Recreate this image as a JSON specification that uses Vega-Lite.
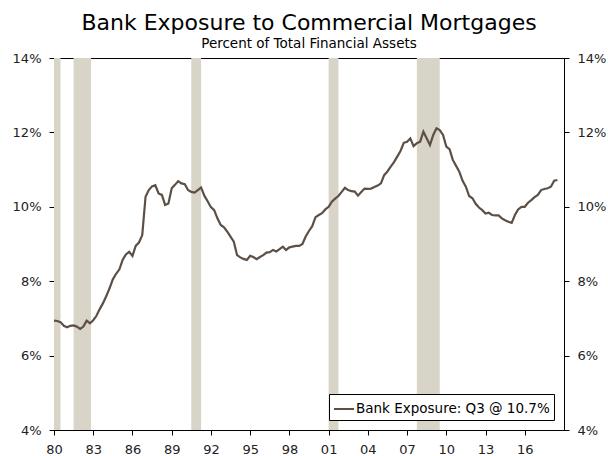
{
  "$schema": "https://vega.github.io/schema/vega-lite/v6.json",
  "width": 510,
  "height": 372,
  "autosize": {"type": "none"},
  "padding": {"left": 54, "top": 58, "right": 44, "bottom": 26},
  "background": "white",
  "config": {
    "font": "DejaVu Sans",
    "view": {"stroke": "black", "strokeWidth": 1},
    "axis": {"grid": false, "domainColor": "black", "tickColor": "black", "labelColor": "#222222", "labelFontSize": 13, "tickSize": 5, "labelPadding": 8, "title": null}
  },
  "title": {
    "text": "Bank Exposure to Commercial Mortgages",
    "subtitle": "Percent of Total Financial Assets",
    "fontSize": 22,
    "fontWeight": "normal",
    "subtitleFontSize": 13.5,
    "color": "black",
    "subtitleColor": "black",
    "anchor": "middle",
    "offset": 1,
    "subtitlePadding": 2
  },
  "datasets": {
    "rec": [
      {"start": "1980-01-01", "end": "1980-07-01"},
      {"start": "1981-07-01", "end": "1982-11-01"},
      {"start": "1990-07-01", "end": "1991-04-01"},
      {"start": "2001-01-01", "end": "2001-10-01"},
      {"start": "2007-10-01", "end": "2009-07-01"}
    ],
    "bank": [
      {"date": "1980-01-01", "value": 6.94, "series": "Bank Exposure: Q3 @ 10.7%"},
      {"date": "1980-04-01", "value": 6.93, "series": "Bank Exposure: Q3 @ 10.7%"},
      {"date": "1980-07-01", "value": 6.90, "series": "Bank Exposure: Q3 @ 10.7%"},
      {"date": "1980-10-01", "value": 6.80, "series": "Bank Exposure: Q3 @ 10.7%"},
      {"date": "1981-01-01", "value": 6.76, "series": "Bank Exposure: Q3 @ 10.7%"},
      {"date": "1981-04-01", "value": 6.80, "series": "Bank Exposure: Q3 @ 10.7%"},
      {"date": "1981-07-01", "value": 6.81, "series": "Bank Exposure: Q3 @ 10.7%"},
      {"date": "1981-10-01", "value": 6.78, "series": "Bank Exposure: Q3 @ 10.7%"},
      {"date": "1982-01-01", "value": 6.72, "series": "Bank Exposure: Q3 @ 10.7%"},
      {"date": "1982-04-01", "value": 6.78, "series": "Bank Exposure: Q3 @ 10.7%"},
      {"date": "1982-07-01", "value": 6.94, "series": "Bank Exposure: Q3 @ 10.7%"},
      {"date": "1982-10-01", "value": 6.87, "series": "Bank Exposure: Q3 @ 10.7%"},
      {"date": "1983-01-01", "value": 6.95, "series": "Bank Exposure: Q3 @ 10.7%"},
      {"date": "1983-04-01", "value": 7.07, "series": "Bank Exposure: Q3 @ 10.7%"},
      {"date": "1983-07-01", "value": 7.25, "series": "Bank Exposure: Q3 @ 10.7%"},
      {"date": "1983-10-01", "value": 7.41, "series": "Bank Exposure: Q3 @ 10.7%"},
      {"date": "1984-01-01", "value": 7.60, "series": "Bank Exposure: Q3 @ 10.7%"},
      {"date": "1984-04-01", "value": 7.81, "series": "Bank Exposure: Q3 @ 10.7%"},
      {"date": "1984-07-01", "value": 8.05, "series": "Bank Exposure: Q3 @ 10.7%"},
      {"date": "1984-10-01", "value": 8.20, "series": "Bank Exposure: Q3 @ 10.7%"},
      {"date": "1985-01-01", "value": 8.32, "series": "Bank Exposure: Q3 @ 10.7%"},
      {"date": "1985-04-01", "value": 8.57, "series": "Bank Exposure: Q3 @ 10.7%"},
      {"date": "1985-07-01", "value": 8.72, "series": "Bank Exposure: Q3 @ 10.7%"},
      {"date": "1985-10-01", "value": 8.79, "series": "Bank Exposure: Q3 @ 10.7%"},
      {"date": "1986-01-01", "value": 8.68, "series": "Bank Exposure: Q3 @ 10.7%"},
      {"date": "1986-04-01", "value": 8.95, "series": "Bank Exposure: Q3 @ 10.7%"},
      {"date": "1986-07-01", "value": 9.04, "series": "Bank Exposure: Q3 @ 10.7%"},
      {"date": "1986-10-01", "value": 9.24, "series": "Bank Exposure: Q3 @ 10.7%"},
      {"date": "1987-01-01", "value": 10.27, "series": "Bank Exposure: Q3 @ 10.7%"},
      {"date": "1987-04-01", "value": 10.45, "series": "Bank Exposure: Q3 @ 10.7%"},
      {"date": "1987-07-01", "value": 10.55, "series": "Bank Exposure: Q3 @ 10.7%"},
      {"date": "1987-10-01", "value": 10.58, "series": "Bank Exposure: Q3 @ 10.7%"},
      {"date": "1988-01-01", "value": 10.36, "series": "Bank Exposure: Q3 @ 10.7%"},
      {"date": "1988-04-01", "value": 10.32, "series": "Bank Exposure: Q3 @ 10.7%"},
      {"date": "1988-07-01", "value": 10.05, "series": "Bank Exposure: Q3 @ 10.7%"},
      {"date": "1988-10-01", "value": 10.09, "series": "Bank Exposure: Q3 @ 10.7%"},
      {"date": "1989-01-01", "value": 10.50, "series": "Bank Exposure: Q3 @ 10.7%"},
      {"date": "1989-04-01", "value": 10.59, "series": "Bank Exposure: Q3 @ 10.7%"},
      {"date": "1989-07-01", "value": 10.69, "series": "Bank Exposure: Q3 @ 10.7%"},
      {"date": "1989-10-01", "value": 10.63, "series": "Bank Exposure: Q3 @ 10.7%"},
      {"date": "1990-01-01", "value": 10.61, "series": "Bank Exposure: Q3 @ 10.7%"},
      {"date": "1990-04-01", "value": 10.45, "series": "Bank Exposure: Q3 @ 10.7%"},
      {"date": "1990-07-01", "value": 10.40, "series": "Bank Exposure: Q3 @ 10.7%"},
      {"date": "1990-10-01", "value": 10.38, "series": "Bank Exposure: Q3 @ 10.7%"},
      {"date": "1991-01-01", "value": 10.45, "series": "Bank Exposure: Q3 @ 10.7%"},
      {"date": "1991-04-01", "value": 10.52, "series": "Bank Exposure: Q3 @ 10.7%"},
      {"date": "1991-07-01", "value": 10.30, "series": "Bank Exposure: Q3 @ 10.7%"},
      {"date": "1991-10-01", "value": 10.15, "series": "Bank Exposure: Q3 @ 10.7%"},
      {"date": "1992-01-01", "value": 9.99, "series": "Bank Exposure: Q3 @ 10.7%"},
      {"date": "1992-04-01", "value": 9.91, "series": "Bank Exposure: Q3 @ 10.7%"},
      {"date": "1992-07-01", "value": 9.69, "series": "Bank Exposure: Q3 @ 10.7%"},
      {"date": "1992-10-01", "value": 9.51, "series": "Bank Exposure: Q3 @ 10.7%"},
      {"date": "1993-01-01", "value": 9.45, "series": "Bank Exposure: Q3 @ 10.7%"},
      {"date": "1993-04-01", "value": 9.33, "series": "Bank Exposure: Q3 @ 10.7%"},
      {"date": "1993-07-01", "value": 9.20, "series": "Bank Exposure: Q3 @ 10.7%"},
      {"date": "1993-10-01", "value": 9.06, "series": "Bank Exposure: Q3 @ 10.7%"},
      {"date": "1994-01-01", "value": 8.70, "series": "Bank Exposure: Q3 @ 10.7%"},
      {"date": "1994-04-01", "value": 8.64, "series": "Bank Exposure: Q3 @ 10.7%"},
      {"date": "1994-07-01", "value": 8.60, "series": "Bank Exposure: Q3 @ 10.7%"},
      {"date": "1994-10-01", "value": 8.57, "series": "Bank Exposure: Q3 @ 10.7%"},
      {"date": "1995-01-01", "value": 8.68, "series": "Bank Exposure: Q3 @ 10.7%"},
      {"date": "1995-04-01", "value": 8.65, "series": "Bank Exposure: Q3 @ 10.7%"},
      {"date": "1995-07-01", "value": 8.59, "series": "Bank Exposure: Q3 @ 10.7%"},
      {"date": "1995-10-01", "value": 8.65, "series": "Bank Exposure: Q3 @ 10.7%"},
      {"date": "1996-01-01", "value": 8.70, "series": "Bank Exposure: Q3 @ 10.7%"},
      {"date": "1996-04-01", "value": 8.77, "series": "Bank Exposure: Q3 @ 10.7%"},
      {"date": "1996-07-01", "value": 8.78, "series": "Bank Exposure: Q3 @ 10.7%"},
      {"date": "1996-10-01", "value": 8.84, "series": "Bank Exposure: Q3 @ 10.7%"},
      {"date": "1997-01-01", "value": 8.80, "series": "Bank Exposure: Q3 @ 10.7%"},
      {"date": "1997-04-01", "value": 8.86, "series": "Bank Exposure: Q3 @ 10.7%"},
      {"date": "1997-07-01", "value": 8.93, "series": "Bank Exposure: Q3 @ 10.7%"},
      {"date": "1997-10-01", "value": 8.84, "series": "Bank Exposure: Q3 @ 10.7%"},
      {"date": "1998-01-01", "value": 8.91, "series": "Bank Exposure: Q3 @ 10.7%"},
      {"date": "1998-04-01", "value": 8.93, "series": "Bank Exposure: Q3 @ 10.7%"},
      {"date": "1998-07-01", "value": 8.95, "series": "Bank Exposure: Q3 @ 10.7%"},
      {"date": "1998-10-01", "value": 8.95, "series": "Bank Exposure: Q3 @ 10.7%"},
      {"date": "1999-01-01", "value": 9.00, "series": "Bank Exposure: Q3 @ 10.7%"},
      {"date": "1999-04-01", "value": 9.20, "series": "Bank Exposure: Q3 @ 10.7%"},
      {"date": "1999-07-01", "value": 9.35, "series": "Bank Exposure: Q3 @ 10.7%"},
      {"date": "1999-10-01", "value": 9.48, "series": "Bank Exposure: Q3 @ 10.7%"},
      {"date": "2000-01-01", "value": 9.72, "series": "Bank Exposure: Q3 @ 10.7%"},
      {"date": "2000-04-01", "value": 9.78, "series": "Bank Exposure: Q3 @ 10.7%"},
      {"date": "2000-07-01", "value": 9.83, "series": "Bank Exposure: Q3 @ 10.7%"},
      {"date": "2000-10-01", "value": 9.93, "series": "Bank Exposure: Q3 @ 10.7%"},
      {"date": "2001-01-01", "value": 10.00, "series": "Bank Exposure: Q3 @ 10.7%"},
      {"date": "2001-04-01", "value": 10.14, "series": "Bank Exposure: Q3 @ 10.7%"},
      {"date": "2001-07-01", "value": 10.22, "series": "Bank Exposure: Q3 @ 10.7%"},
      {"date": "2001-10-01", "value": 10.29, "series": "Bank Exposure: Q3 @ 10.7%"},
      {"date": "2002-01-01", "value": 10.40, "series": "Bank Exposure: Q3 @ 10.7%"},
      {"date": "2002-04-01", "value": 10.51, "series": "Bank Exposure: Q3 @ 10.7%"},
      {"date": "2002-07-01", "value": 10.45, "series": "Bank Exposure: Q3 @ 10.7%"},
      {"date": "2002-10-01", "value": 10.42, "series": "Bank Exposure: Q3 @ 10.7%"},
      {"date": "2003-01-01", "value": 10.41, "series": "Bank Exposure: Q3 @ 10.7%"},
      {"date": "2003-04-01", "value": 10.30, "series": "Bank Exposure: Q3 @ 10.7%"},
      {"date": "2003-07-01", "value": 10.40, "series": "Bank Exposure: Q3 @ 10.7%"},
      {"date": "2003-10-01", "value": 10.49, "series": "Bank Exposure: Q3 @ 10.7%"},
      {"date": "2004-01-01", "value": 10.48, "series": "Bank Exposure: Q3 @ 10.7%"},
      {"date": "2004-04-01", "value": 10.49, "series": "Bank Exposure: Q3 @ 10.7%"},
      {"date": "2004-07-01", "value": 10.53, "series": "Bank Exposure: Q3 @ 10.7%"},
      {"date": "2004-10-01", "value": 10.57, "series": "Bank Exposure: Q3 @ 10.7%"},
      {"date": "2005-01-01", "value": 10.63, "series": "Bank Exposure: Q3 @ 10.7%"},
      {"date": "2005-04-01", "value": 10.85, "series": "Bank Exposure: Q3 @ 10.7%"},
      {"date": "2005-07-01", "value": 10.95, "series": "Bank Exposure: Q3 @ 10.7%"},
      {"date": "2005-10-01", "value": 11.08, "series": "Bank Exposure: Q3 @ 10.7%"},
      {"date": "2006-01-01", "value": 11.20, "series": "Bank Exposure: Q3 @ 10.7%"},
      {"date": "2006-04-01", "value": 11.35, "series": "Bank Exposure: Q3 @ 10.7%"},
      {"date": "2006-07-01", "value": 11.50, "series": "Bank Exposure: Q3 @ 10.7%"},
      {"date": "2006-10-01", "value": 11.72, "series": "Bank Exposure: Q3 @ 10.7%"},
      {"date": "2007-01-01", "value": 11.75, "series": "Bank Exposure: Q3 @ 10.7%"},
      {"date": "2007-04-01", "value": 11.84, "series": "Bank Exposure: Q3 @ 10.7%"},
      {"date": "2007-07-01", "value": 11.63, "series": "Bank Exposure: Q3 @ 10.7%"},
      {"date": "2007-10-01", "value": 11.71, "series": "Bank Exposure: Q3 @ 10.7%"},
      {"date": "2008-01-01", "value": 11.75, "series": "Bank Exposure: Q3 @ 10.7%"},
      {"date": "2008-04-01", "value": 12.02, "series": "Bank Exposure: Q3 @ 10.7%"},
      {"date": "2008-07-01", "value": 11.84, "series": "Bank Exposure: Q3 @ 10.7%"},
      {"date": "2008-10-01", "value": 11.66, "series": "Bank Exposure: Q3 @ 10.7%"},
      {"date": "2009-01-01", "value": 11.93, "series": "Bank Exposure: Q3 @ 10.7%"},
      {"date": "2009-04-01", "value": 12.11, "series": "Bank Exposure: Q3 @ 10.7%"},
      {"date": "2009-07-01", "value": 12.06, "series": "Bank Exposure: Q3 @ 10.7%"},
      {"date": "2009-10-01", "value": 11.93, "series": "Bank Exposure: Q3 @ 10.7%"},
      {"date": "2010-01-01", "value": 11.62, "series": "Bank Exposure: Q3 @ 10.7%"},
      {"date": "2010-04-01", "value": 11.55, "series": "Bank Exposure: Q3 @ 10.7%"},
      {"date": "2010-07-01", "value": 11.26, "series": "Bank Exposure: Q3 @ 10.7%"},
      {"date": "2010-10-01", "value": 11.10, "series": "Bank Exposure: Q3 @ 10.7%"},
      {"date": "2011-01-01", "value": 10.94, "series": "Bank Exposure: Q3 @ 10.7%"},
      {"date": "2011-04-01", "value": 10.70, "series": "Bank Exposure: Q3 @ 10.7%"},
      {"date": "2011-07-01", "value": 10.54, "series": "Bank Exposure: Q3 @ 10.7%"},
      {"date": "2011-10-01", "value": 10.29, "series": "Bank Exposure: Q3 @ 10.7%"},
      {"date": "2012-01-01", "value": 10.23, "series": "Bank Exposure: Q3 @ 10.7%"},
      {"date": "2012-04-01", "value": 10.08, "series": "Bank Exposure: Q3 @ 10.7%"},
      {"date": "2012-07-01", "value": 9.98, "series": "Bank Exposure: Q3 @ 10.7%"},
      {"date": "2012-10-01", "value": 9.91, "series": "Bank Exposure: Q3 @ 10.7%"},
      {"date": "2013-01-01", "value": 9.82, "series": "Bank Exposure: Q3 @ 10.7%"},
      {"date": "2013-04-01", "value": 9.84, "series": "Bank Exposure: Q3 @ 10.7%"},
      {"date": "2013-07-01", "value": 9.78, "series": "Bank Exposure: Q3 @ 10.7%"},
      {"date": "2013-10-01", "value": 9.77, "series": "Bank Exposure: Q3 @ 10.7%"},
      {"date": "2014-01-01", "value": 9.77, "series": "Bank Exposure: Q3 @ 10.7%"},
      {"date": "2014-04-01", "value": 9.69, "series": "Bank Exposure: Q3 @ 10.7%"},
      {"date": "2014-07-01", "value": 9.64, "series": "Bank Exposure: Q3 @ 10.7%"},
      {"date": "2014-10-01", "value": 9.60, "series": "Bank Exposure: Q3 @ 10.7%"},
      {"date": "2015-01-01", "value": 9.57, "series": "Bank Exposure: Q3 @ 10.7%"},
      {"date": "2015-04-01", "value": 9.78, "series": "Bank Exposure: Q3 @ 10.7%"},
      {"date": "2015-07-01", "value": 9.93, "series": "Bank Exposure: Q3 @ 10.7%"},
      {"date": "2015-10-01", "value": 10.00, "series": "Bank Exposure: Q3 @ 10.7%"},
      {"date": "2016-01-01", "value": 10.00, "series": "Bank Exposure: Q3 @ 10.7%"},
      {"date": "2016-04-01", "value": 10.11, "series": "Bank Exposure: Q3 @ 10.7%"},
      {"date": "2016-07-01", "value": 10.18, "series": "Bank Exposure: Q3 @ 10.7%"},
      {"date": "2016-10-01", "value": 10.26, "series": "Bank Exposure: Q3 @ 10.7%"},
      {"date": "2017-01-01", "value": 10.32, "series": "Bank Exposure: Q3 @ 10.7%"},
      {"date": "2017-04-01", "value": 10.45, "series": "Bank Exposure: Q3 @ 10.7%"},
      {"date": "2017-07-01", "value": 10.48, "series": "Bank Exposure: Q3 @ 10.7%"},
      {"date": "2017-10-01", "value": 10.50, "series": "Bank Exposure: Q3 @ 10.7%"},
      {"date": "2018-01-01", "value": 10.54, "series": "Bank Exposure: Q3 @ 10.7%"},
      {"date": "2018-04-01", "value": 10.70, "series": "Bank Exposure: Q3 @ 10.7%"},
      {"date": "2018-07-01", "value": 10.72, "series": "Bank Exposure: Q3 @ 10.7%"}
    ]
  },
  "layer": [
    {
      "data": {"name": "rec"},
      "mark": {"type": "rect", "color": "#d8d4c7"},
      "encoding": {
        "x": {
          "field": "start", "type": "temporal",
          "scale": {"type": "utc", "domain": [{"year": 1980, "month": 1, "date": 1, "utc": true}, {"year": 2019, "month": 1, "date": 1, "utc": true}]},
          "axis": {
            "values": [
              {"year": 1980, "utc": true}, {"year": 1983, "utc": true}, {"year": 1986, "utc": true}, {"year": 1989, "utc": true},
              {"year": 1992, "utc": true}, {"year": 1995, "utc": true}, {"year": 1998, "utc": true}, {"year": 2001, "utc": true},
              {"year": 2004, "utc": true}, {"year": 2007, "utc": true}, {"year": 2010, "utc": true}, {"year": 2013, "utc": true},
              {"year": 2016, "utc": true}
            ],
            "format": "%y", "labelFlush": false, "labelOverlap": false
          }
        },
        "x2": {"field": "end"}
      }
    },
    {
      "data": {"name": "bank"},
      "mark": {"type": "line", "strokeWidth": 2.2},
      "encoding": {
        "x": {"field": "date", "type": "temporal"},
        "y": {
          "field": "value", "type": "quantitative",
          "scale": {"domain": [4, 14], "nice": false, "zero": false},
          "axis": {"values": [4, 6, 8, 10, 12, 14], "labelExpr": "datum.value + '%'", "orient": "left"}
        },
        "color": {
          "field": "series", "type": "nominal",
          "scale": {"range": ["#5c5046"]},
          "legend": {
            "title": null, "orient": "bottom-right", "offset": 10,
            "strokeColor": "black", "fillColor": "white", "padding": 4,
            "symbolType": "stroke", "symbolSize": 400, "symbolStrokeWidth": 2,
            "labelFontSize": 13.5, "labelColor": "black", "labelOffset": 1, "labelLimit": 400
          }
        }
      }
    },
    {
      "data": {"name": "bank"},
      "mark": {"type": "line", "opacity": 0},
      "encoding": {
        "x": {"field": "date", "type": "temporal"},
        "y": {
          "field": "value", "type": "quantitative",
          "scale": {"domain": [4, 14], "nice": false, "zero": false},
          "axis": {"values": [4, 6, 8, 10, 12, 14], "labelExpr": "datum.value + '%'", "orient": "right"}
        }
      }
    }
  ],
  "resolve": {"scale": {"y": "independent"}}
}
